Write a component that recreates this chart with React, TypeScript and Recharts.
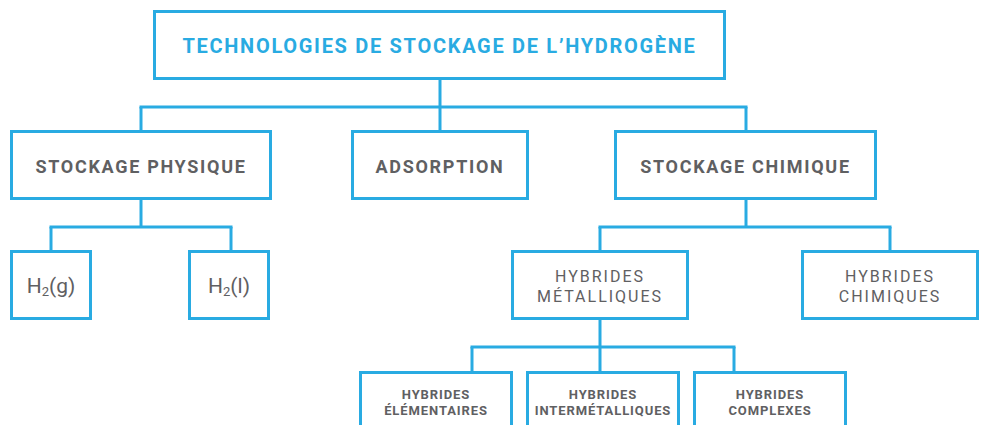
import React from 'react';
import { ScatterChart, Scatter, XAxis, YAxis, ReferenceLine } from 'recharts';

const BLUE = '#29abe2';
const GREY = '#5f6062';

// tree structure
const nodeIds = ['root', 'phys', 'ads', 'chim', 'h2g', 'h2l', 'met', 'chimh', 'elem', 'inter', 'comp'];
const nodeLabels = [
  ['TECHNOLOGIES DE STOCKAGE DE L\u2019HYDROGÈNE'],
  ['STOCKAGE PHYSIQUE'],
  ['ADSORPTION'],
  ['STOCKAGE CHIMIQUE'],
  ['H_2(g)'],
  ['H_2(l)'],
  ['HYBRIDES', 'MÉTALLIQUES'],
  ['HYBRIDES', 'CHIMIQUES'],
  ['HYBRIDES', 'ÉLÉMENTAIRES'],
  ['HYBRIDES', 'INTERMÉTALLIQUES'],
  ['HYBRIDES', 'COMPLEXES'],
];
const nodeParents = [null, 'root', 'root', 'root', 'phys', 'phys', 'chim', 'chim', 'met', 'met', 'met'];
const nodeLevels = [0, 1, 1, 1, 2, 2, 2, 2, 3, 3, 3];

// layout (diagram units)
const nodeX = [439.5, 141, 440, 745.5, 51, 229, 600, 890, 436, 603, 770];
const nodeW = [573, 262, 178, 263, 82, 82, 178, 178, 154, 154, 154];
const linkX = [440, 141, 440, 746, 51, 231, 600, 890, 472, 600, 734];
const levelY = [45, 165, 285, 408];
const levelH = [70, 70, 70, 74];
const busY = [107, 227, 347];

const levelStyle = [
  { size: 20, weight: 700, color: BLUE, spacing: 1.7, lh: 20 },
  { size: 18, weight: 700, color: GREY, spacing: 1.7, lh: 20 },
  { size: 16, weight: 400, color: GREY, spacing: 2, lh: 20 },
  { size: 13, weight: 700, color: GREY, spacing: 0.9, lh: 16 },
];

const nodes = nodeIds.map((id, i) => ({
  id,
  lines: nodeLabels[i],
  level: nodeLevels[i],
  x: nodeX[i],
  y: levelY[nodeLevels[i]],
  w: nodeW[i],
}));

type Seg = [{ x: number; y: number }, { x: number; y: number }];
const segments: Seg[] = [];
nodeIds.forEach((pid, pi) => {
  const kids = nodeIds.map((_, i) => i).filter((i) => nodeParents[i] === pid);
  if (!kids.length) return;
  const lvl = nodeLevels[pi];
  const bus = busY[lvl];
  const pBottom = levelY[lvl] + levelH[lvl] / 2;
  segments.push([{ x: linkX[pi], y: pBottom }, { x: linkX[pi], y: bus }]);
  const xs = kids.map((k) => linkX[k]);
  segments.push([{ x: Math.min(...xs) - 1.5, y: bus }, { x: Math.max(...xs) + 1.5, y: bus }]);
  kids.forEach((k) => {
    const kl = nodeLevels[k];
    segments.push([{ x: linkX[k], y: bus }, { x: linkX[k], y: levelY[kl] - levelH[kl] / 2 }]);
  });
});

function Label({ text, x, y, st }: any) {
  if (text.includes('_')) {
    const [a, rest] = text.split('_');
    return (
      <text x={x} y={y} textAnchor="middle" dominantBaseline="central" fill={st.color}
        fontSize={st.size} fontWeight={st.weight} fontFamily="Roboto, sans-serif">
        <tspan>{a}</tspan>
        <tspan fontSize={st.size * 0.62} dy={5}>{rest[0]}</tspan>
        <tspan dy={-5}>{rest.slice(1)}</tspan>
      </text>
    );
  }
  return (
    <text x={x} y={y} textAnchor="middle" dominantBaseline="central" fill={st.color}
      fontSize={st.size} fontWeight={st.weight} letterSpacing={st.spacing}
      fontFamily="Roboto, sans-serif">
      {text}
    </text>
  );
}

function NodeBox(props: any) {
  const { cx, cy, payload } = props;
  if (cx == null || cy == null) return null;
  const st = levelStyle[payload.level];
  const h = levelH[payload.level];
  const w = payload.w;
  const n = payload.lines.length;
  const big = payload.id === 'h2g' || payload.id === 'h2l';
  const s = big ? { ...st, size: 21, spacing: 0 } : st;
  return (
    <g>
      <rect x={cx - w / 2 + 1.5} y={cy - h / 2 + 1.5} width={w - 3} height={h - 3}
        fill="#fff" stroke={BLUE} strokeWidth={3} />
      {payload.lines.map((line: string, i: number) => (
        <Label key={i} text={line} x={cx} y={(payload.level === 3 ? cy - 7 : cy) + (i - (n - 1) / 2) * st.lh + 1} st={s} />
      ))}
    </g>
  );
}

export default function App() {
  return (
    <div style={{ position: 'absolute', left: 0, top: 0, background: '#fff' }}>
      <ScatterChart width={984} height={425} margin={{ top: 0, right: 0, bottom: 0, left: 0 }}>
        <XAxis type="number" dataKey="x" domain={[0, 984]} hide allowDataOverflow />
        <YAxis type="number" dataKey="y" domain={[0, 425]} reversed hide allowDataOverflow />
        {segments.map((seg, i) => (
          <ReferenceLine key={i} segment={seg} stroke={BLUE} strokeWidth={3} ifOverflow="visible" />
        ))}
        <Scatter data={nodes} shape={<NodeBox />} isAnimationActive={false} />
      </ScatterChart>
    </div>
  );
}
